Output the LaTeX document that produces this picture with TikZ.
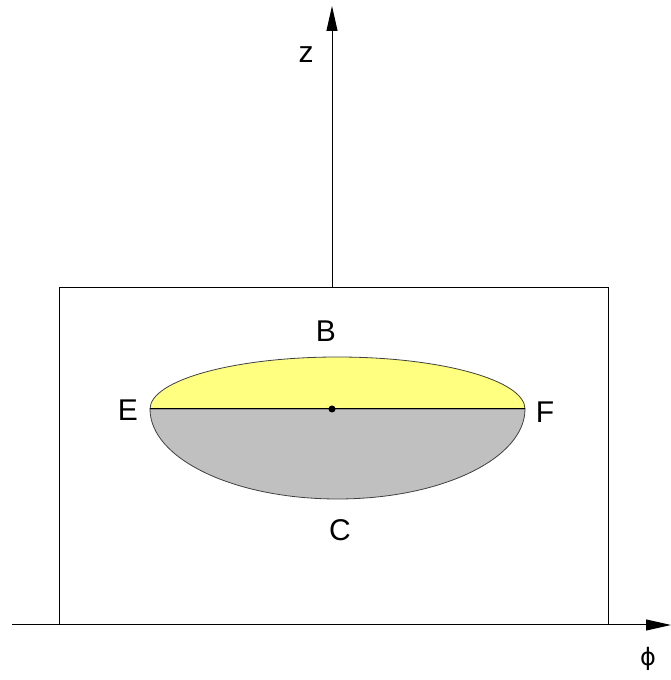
\documentclass[tikz,border=0pt]{standalone}
\usepackage{fontspec}
\setmainfont{Liberation Sans}
\newfontfamily\phifont{DejaVu Sans}
\usetikzlibrary{arrows.meta}
\definecolor{lnyellow}{HTML}{FFFF80}
\definecolor{lngray}  {HTML}{C0C0C0}
\definecolor{lnedge}  {HTML}{404040}

\begin{document}
\begin{tikzpicture}[x=1pt, y=1pt, line width=1pt,
    every node/.style={font=\fontsize{30}{34}\selectfont, inner sep=0pt},
    axisarrow/.style={-{Triangle[length=25pt, width=11pt]}}]
      \useasboundingbox (0,0) rectangle (671,680);
      % frame
      \draw (59,55) rectangle (608,392);
      % axes
      \coordinate (phistart) at (12,55);
      \coordinate (phiend)   at (671,55);
      \coordinate (zstart)   at (332,392);
      \coordinate (zend)     at (332,674);
      \draw[axisarrow] (phistart) -- (phiend);
      \draw[axisarrow] (zstart) -- (zend);
      % upper and lower halves
      \filldraw[fill=lnyellow, draw=lnedge, line width=0.8pt]
        (525,271) arc[start angle=0, end angle=180, x radius=187.5, y radius=52] -- cycle;
      \filldraw[fill=lngray, draw=lnedge, line width=0.8pt]
        (150,271) arc[start angle=180, end angle=360, x radius=187.5, y radius=90] -- cycle;
      \coordinate (E) at (150,271);
      \coordinate (F) at (525,271);
      \draw (E) -- (F);
      \fill (332,271) circle (3.5pt);
      % labels
      \node (zlab)   at (306,625) {z};
      \node (philab) at (648,21)  {\phifont\fontsize{24}{28}\selectfont ϕ};
      \node (B)      at (326,349) {B};
      \node (C)      at (340,150) {C};
      \node (Elab)   at (128,270) {E};
      \node (Flab)   at (545,268) {F};
    \end{tikzpicture}
\end{document}
